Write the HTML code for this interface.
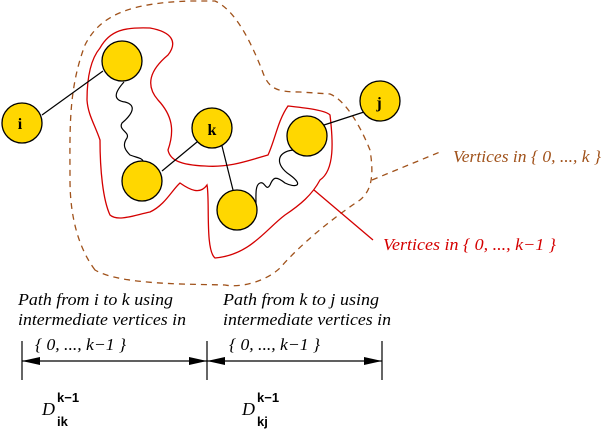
<!DOCTYPE html>
<html><head><style>body{margin:0;background:#fff}svg{display:block}</style></head><body>
<svg width="603" height="430" viewBox="0 0 603 430" xmlns="http://www.w3.org/2000/svg">
<path d="M95,270 C80,250 70,220 70,180 C70,130 68,90 85,45 C100,15 130,3 190,1 L215,1 C235,10 250,40 262,70 C268,88 275,92 300,92 L330,94 C345,100 360,125 370,150 C374,175 372,190 360,200 C330,220 300,245 280,268 C265,282 240,288 225,285 C190,284 120,285 95,270 Z" fill="none" stroke="#a0521b" stroke-width="1.3" stroke-dasharray="6,5"/>
<path d="M100,48 C110,30 125,27 150,28 C172,32 178,42 168,55 C150,70 145,85 158,100 C172,115 175,130 168,150 C170,160 180,165 205,166 C230,168 250,160 268,155 C275,140 278,120 288,106 C305,108 325,110 330,115 C333,140 335,170 320,180 C312,195 300,205 285,215 C265,230 250,255 215,258 C205,250 210,200 207,185 C200,195 190,190 180,183 C172,190 165,205 150,212 C135,215 118,222 110,215 C103,200 100,170 100,140 C95,125 88,115 87,100 C87,80 90,60 100,48 Z" fill="none" stroke="#d40000" stroke-width="1.3"/>
<g stroke="#000" stroke-width="1.2" fill="none">
<line x1="42" y1="115" x2="103" y2="71"/>
<line x1="197" y1="142" x2="162" y2="171"/>
<line x1="222" y1="146" x2="233" y2="190"/>
<line x1="324" y1="125" x2="364" y2="112"/>
<path d="M124,82 C115,92 112,100 125,102 C140,106 128,118 122,123 C118,130 130,132 127,138 C122,145 125,150 130,155 C138,158 142,158 143,161"/>
<path d="M256,205 C256,195 255,185 260,183 C265,181 266,192 270,185 C273,178 275,175 285,183 C295,188 305,186 290,175 C275,165 276,152 293,150"/>
</g>
<g fill="#ffd700" stroke="#000" stroke-width="1.3">
<circle cx="22" cy="123" r="20"/><circle cx="122" cy="61" r="20"/><circle cx="212" cy="128" r="20"/>
<circle cx="142" cy="181" r="20"/><circle cx="237" cy="210" r="20"/><circle cx="307" cy="136" r="20"/><circle cx="380" cy="101" r="20"/>
</g>
<g font-family="Liberation Serif,serif" font-weight="bold" font-size="16" text-anchor="middle">
<text x="20" y="129">i</text><text x="212" y="135">k</text><text x="379" y="108">j</text>
</g>
<line x1="372" y1="180" x2="440" y2="152" stroke="#a0521b" stroke-width="1.3" stroke-dasharray="6,5"/>
<line x1="314" y1="190" x2="373" y2="240" stroke="#d40000" stroke-width="1.3"/>
<g font-family="Liberation Serif,serif" font-style="italic" font-size="17" lengthAdjust="spacingAndGlyphs">
<text x="453" y="162" fill="#a0521b" textLength="148" lengthAdjust="spacingAndGlyphs">Vertices in { 0, ..., k }</text>
<text x="383" y="250" fill="#d40000" textLength="173" lengthAdjust="spacingAndGlyphs">Vertices in { 0, ..., k−1 }</text>
<text x="18" y="305" textLength="155" lengthAdjust="spacingAndGlyphs">Path from i to k using</text>
<text x="18" y="325" textLength="168" lengthAdjust="spacingAndGlyphs">intermediate vertices in</text>
<text x="35" y="350" textLength="91" lengthAdjust="spacingAndGlyphs">{ 0, ..., k−1 }</text>
<text x="223" y="305" textLength="156" lengthAdjust="spacingAndGlyphs">Path from k to j using</text>
<text x="223" y="325" textLength="168" lengthAdjust="spacingAndGlyphs">intermediate vertices in</text>
<text x="229" y="350" textLength="91" lengthAdjust="spacingAndGlyphs">{ 0, ..., k−1 }</text>
<text x="42" y="415" font-size="18">D</text>
<text x="242" y="415" font-size="18">D</text>
</g>
<g stroke="#000" stroke-width="1.2">
<line x1="22" y1="341" x2="22" y2="380"/><line x1="207" y1="341" x2="207" y2="380"/><line x1="382" y1="341" x2="382" y2="380"/>
<line x1="22" y1="361" x2="382" y2="361"/>
</g>
<g fill="#000">
<polygon points="22,361 40,357 40,365"/><polygon points="207,361 189,357 189,365"/>
<polygon points="207,361 225,357 225,365"/><polygon points="382,361 364,357 364,365"/>
</g>
<g font-family="Liberation Sans,sans-serif" font-weight="bold" font-size="13">
<text x="57" y="402">k−1</text><text x="57" y="426">ik</text>
<text x="257" y="402">k−1</text><text x="257" y="426">kj</text>
</g>
</svg>
</body></html>
